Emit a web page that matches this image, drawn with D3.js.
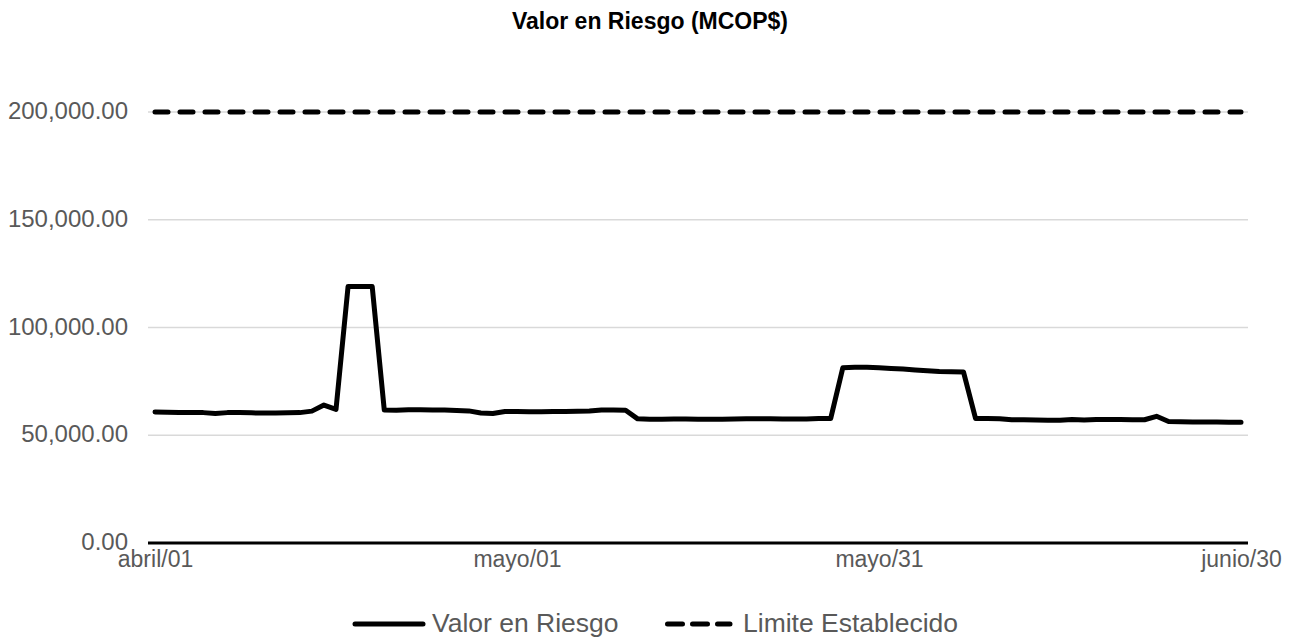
<!DOCTYPE html>
<html>
<head>
<meta charset="utf-8">
<title>Valor en Riesgo</title>
<script src="https://cdnjs.cloudflare.com/ajax/libs/d3/7.8.5/d3.min.js"></script>
<style>
  body { margin: 0; background: #fff; }
  text { font-family: "Liberation Sans", Arial, sans-serif; }
</style>
</head>
<body>
<script>
// daily values from 1 April to 30 June
var startDate = new Date(Date.UTC(2023, 3, 1));
var riskValues = [
  60800, 60700, 60600, 60600, 60500, 60100, 60500, 60500, 60400, 60300,
  60300, 60400, 60500, 61200, 64000, 62000, 119000, 119000, 119000, 61700,
  61600, 61800, 61800, 61700, 61700, 61500, 61300, 60300, 60100, 61000,
  61000, 60900, 60900, 61000, 61000, 61100, 61200, 61700, 61700, 61600,
  57600, 57400, 57400, 57500, 57500, 57400, 57400, 57400, 57500, 57600,
  57600, 57600, 57500, 57500, 57500, 57800, 57800, 81300, 81500, 81500,
  81300, 81000, 80700, 80300, 79900, 79600, 79500, 79400, 57800, 57800,
  57700, 57200, 57200, 57100, 57000, 57000, 57300, 57100, 57300, 57300,
  57300, 57200, 57200, 58800, 56400, 56300, 56200, 56200, 56100, 56000,
  56000
];
var limitValue = 200000;
var yTicks = [0, 50000, 100000, 150000, 200000];
var xTickDays = [0, 30, 60, 90];
var xTickLabels = ["abril/01", "mayo/01", "mayo/31", "junio/30"];
var seriesNames = ["Valor en Riesgo", "Limite Establecido"];

var dates = riskValues.map(function(v, i) { return d3.utcDay.offset(startDate, i); });
var data = riskValues.map(function(v, i) { return {date: dates[i], value: v}; });

var width = 1299, height = 640;

var svg = d3.select("body").append("svg")
  .attr("width", width)
  .attr("height", height);

var x = d3.scaleUtc()
  .domain([startDate, dates[dates.length - 1]])
  .range([155, 1241]);

var y = d3.scaleLinear()
  .domain([0, 200000])
  .range([543, 112]);

// title
svg.append("text")
  .attr("x", 650)
  .attr("y", 29)
  .attr("text-anchor", "middle")
  .style("font-size", "23px")
  .style("font-weight", "bold")
  .style("fill", "#000")
  .text("Valor en Riesgo (MCOP$)");

// gridlines
svg.append("g").selectAll("line")
  .data(yTicks.filter(function(d) { return d > 0; }))
  .enter().append("line")
  .attr("x1", 148).attr("x2", 1248)
  .attr("y1", function(d) { return y(d); })
  .attr("y2", function(d) { return y(d); })
  .style("stroke", "#d9d9d9")
  .style("stroke-width", 1.3);

// y labels
var fmt = d3.format(",.2f");
svg.append("g").selectAll("text")
  .data(yTicks)
  .enter().append("text")
  .attr("x", 128)
  .attr("y", function(d) { return y(d); })
  .attr("dy", "0.3em")
  .attr("text-anchor", "end")
  .style("font-size", "24px")
  .style("fill", "#595959")
  .text(function(d) { return fmt(d); });

// x axis
var xAxis = d3.axisBottom(x)
  .tickValues(xTickDays.map(function(d) { return dates[d]; }))
  .tickSize(0)
  .tickPadding(8)
  .tickFormat(function(d, i) { return xTickLabels[i]; });

var gx = svg.append("g")
  .attr("transform", "translate(0,543)")
  .call(xAxis);
gx.select(".domain").remove();
gx.selectAll("text")
  .style("font-family", "'Liberation Sans', Arial, sans-serif")
  .style("font-size", "23px")
  .style("fill", "#595959");

svg.append("line")
  .attr("x1", 148).attr("x2", 1248)
  .attr("y1", y(0)).attr("y2", y(0))
  .style("stroke", "#000")
  .style("stroke-width", 3);

// limit line
svg.append("line")
  .attr("x1", x(dates[0])).attr("x2", x(dates[dates.length - 1]))
  .attr("y1", y(limitValue)).attr("y2", y(limitValue))
  .style("stroke", "#000")
  .style("stroke-width", 5)
  .style("stroke-linecap", "round")
  .style("stroke-dasharray", "13,12");

// value line
var valueline = d3.line()
  .x(function(d) { return x(d.date); })
  .y(function(d) { return y(d.value); });

svg.append("path")
  .attr("d", valueline(data))
  .style("fill", "none")
  .style("stroke", "#000")
  .style("stroke-width", 5)
  .style("stroke-linejoin", "round")
  .style("stroke-linecap", "round");

// legend
var legend = svg.append("g");
legend.append("line")
  .attr("x1", 355).attr("x2", 423)
  .attr("y1", 624).attr("y2", 624)
  .style("stroke", "#000").style("stroke-width", 5)
  .style("stroke-linecap", "round");
legend.append("text")
  .attr("x", 432).attr("y", 632)
  .style("font-size", "26.5px").style("fill", "#595959")
  .text(seriesNames[0]);
legend.append("line")
  .attr("x1", 667.5).attr("x2", 730)
  .attr("y1", 624).attr("y2", 624)
  .style("stroke", "#000").style("stroke-width", 5)
  .style("stroke-linecap", "round")
  .style("stroke-dasharray", "15,10");
legend.append("text")
  .attr("x", 743).attr("y", 632)
  .style("font-size", "26.5px").style("fill", "#595959")
  .text(seriesNames[1]);
</script>
</body>
</html>
